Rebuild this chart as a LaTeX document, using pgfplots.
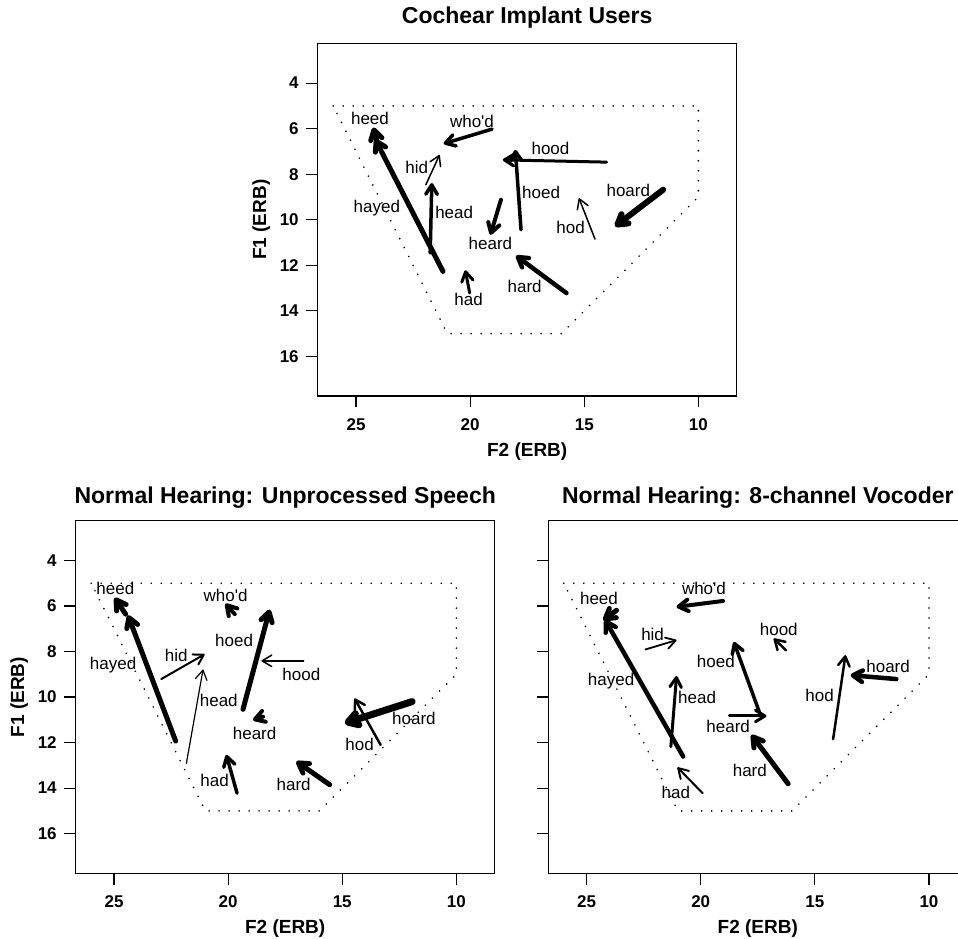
\documentclass[border=0pt]{standalone}
\usepackage{fontspec}
\setmainfont{Liberation Sans}
\usepackage{pgfplots}
\pgfplotsset{compat=1.18}
\usetikzlibrary{arrows.meta}

\pgfplotsset{
  vowel/.style={
    scale only axis, width=419pt, height=352.5pt,
    x dir=reverse, y dir=reverse,
    xmin=8.32, xmax=26.68, ymin=2.26, ymax=17.74,
    xtick={10,15,20,25}, ytick={4,6,...,16},
    tick pos=left, tick align=outside, major tick length=11.5pt,
    axis line style={line width=1.2pt},
    every tick/.style={black, line width=1.2pt},
    /pgf/number format/assume math mode=true,
    ticklabel style={font=\bfseries\fontsize{17}{19}\selectfont},
    xticklabel style={yshift=-7.5pt},
    yticklabel style={xshift=-4pt},
    label style={font=\bfseries\fontsize{19}{21}\selectfont},
    title style={font=\bfseries\fontsize{23}{25}\selectfont, at={(0.5,1)}, anchor=base},
    xlabel={F2 (ERB)}, ylabel={F1 (ERB)},
    xlabel style={at={(axis description cs:0.5,-0.157)}, anchor=center},
    ylabel style={at={(axis description cs:-0.135,0.5)}, anchor=center},
    clip=false,
  },
  arr/.style={mark=none, black, line width=#1, line cap=round,
    -{Straight Barb[length=9.5pt,width=11.5pt,round]}},
  area/.style={mark=none, black, line width=1.8pt, line cap=round,
    dash pattern=on 0pt off 10pt},
}
\tikzset{lbl/.style={font=\fontsize{17}{19}\selectfont, inner sep=0pt}}

\begin{document}
\begin{tikzpicture}[x=1pt,y=1pt]
\useasboundingbox (0,0) rectangle (958,939);
\clip (0,0) rectangle (958,939);

% cochlear implant users
\begin{axis}[vowel, at={(317.7pt,543pt)}, anchor=south west,
  title={Cochear Implant Users}, title style={yshift=14pt}]
\addplot[area] coordinates {(26,5) (10,5) (10,9) (16,15) (21,15) (26,5)};
\addplot[arr=5pt] coordinates {(24.10,6.50) (24.24,5.95)};
\addplot[arr=5pt] coordinates {(21.19,12.27) (24.17,6.45)};
\addplot[arr=3.5pt] coordinates {(19.04,6.02) (21.16,6.66)};
\addplot[arr=1.5pt] coordinates {(21.94,8.46) (21.34,7.15)};
\addplot[arr=3.5pt] coordinates {(21.75,11.46) (21.68,8.39)};
\addplot[arr=3pt] coordinates {(14.02,7.47) (18.57,7.37)};
\addplot[arr=3.5pt] coordinates {(17.77,10.44) (18.02,6.93)};
\addplot[arr=4pt] coordinates {(18.65,9.12) (19.11,10.66)};
\addplot[arr=6pt] coordinates {(11.54,8.68) (13.65,10.29)};
\addplot[arr=1.5pt] coordinates {(14.53,10.85) (15.23,9.05)};
\addplot[arr=4.5pt] coordinates {(15.78,13.22) (17.99,11.58)};
\addplot[arr=3pt] coordinates {(20.02,13.22) (20.21,12.22)};
\node[lbl] at (axis cs:24.39,5.54) {heed};
\node[lbl] at (axis cs:19.92,5.68) {who\textquotesingle d};
\node[lbl] at (axis cs:22.34,7.69) {hid};
\node[lbl] at (axis cs:16.48,6.85) {hood};
\node[lbl] at (axis cs:16.89,8.80) {hoed};
\node[lbl] at (axis cs:13.07,8.71) {hoard};
\node[lbl] at (axis cs:24.09,9.49) {hayed};
\node[lbl] at (axis cs:20.70,9.68) {head};
\node[lbl] at (axis cs:15.60,10.34) {hod};
\node[lbl] at (axis cs:19.11,11.02) {heard};
\node[lbl] at (axis cs:17.61,12.93) {hard};
\node[lbl] at (axis cs:20.07,13.48) {had};
\end{axis}

% normal hearing, unprocessed
\begin{axis}[vowel, at={(75.7pt,65.7pt)}, anchor=south west,
  title={Normal Hearing: Unprocessed Speech}, title style={yshift=11pt}]
\addplot[area] coordinates {(26,5) (10,5) (10,9) (16,15) (21,15) (26,5)};
\addplot[arr=5pt] coordinates {(24.49,6.36) (24.97,5.64)};
\addplot[arr=5pt] coordinates {(22.30,11.93) (24.39,6.41)};
\addplot[arr=4pt] coordinates {(19.71,6.36) (20.12,5.90)};
\addplot[arr=2pt] coordinates {(22.93,9.21) (21.03,8.12)};
\addplot[arr=1.2pt] coordinates {(21.83,12.91) (21.10,8.79)};
\addplot[arr=5pt] coordinates {(19.35,10.54) (18.18,6.16)};
\addplot[arr=1.5pt] coordinates {(16.69,8.41) (18.54,8.41)};
\addplot[arr=4pt] coordinates {(18.47,10.86) (18.91,11.01)};
\addplot[arr=7pt] coordinates {(11.94,10.20) (14.89,11.15)};
\addplot[arr=2.5pt] coordinates {(13.32,12.10) (14.46,10.06)};
\addplot[arr=5pt] coordinates {(15.55,13.85) (17.01,12.83)};
\addplot[arr=3.5pt] coordinates {(19.61,14.22) (20.08,12.54)};
\node[lbl] at (axis cs:24.94,5.24) {heed};
\node[lbl] at (axis cs:20.11,5.53) {who\textquotesingle d};
\node[lbl] at (axis cs:19.74,7.50) {hoed};
\node[lbl] at (axis cs:22.27,8.16) {hid};
\node[lbl] at (axis cs:25.04,8.60) {hayed};
\node[lbl] at (axis cs:16.79,8.99) {hood};
\node[lbl] at (axis cs:20.41,10.13) {head};
\node[lbl] at (axis cs:11.86,10.93) {hoard};
\node[lbl] at (axis cs:18.84,11.59) {heard};
\node[lbl] at (axis cs:14.24,12.06) {hod};
\node[lbl] at (axis cs:20.59,13.66) {had};
\node[lbl] at (axis cs:17.13,13.85) {hard};
\end{axis}

% normal hearing, 8-channel vocoder
\begin{axis}[vowel, at={(548.3pt,65.7pt)}, anchor=south west,
  title={Normal Hearing: 8-channel Vocoder}, title style={yshift=11pt},
  ylabel={}, yticklabels={}]
\addplot[area] coordinates {(26,5) (10,5) (10,9) (16,15) (21,15) (26,5)};
\addplot[arr=5pt] coordinates {(23.69,6.19) (24.27,6.63)};
\addplot[arr=4.5pt] coordinates {(20.77,12.61) (24.20,6.60)};
\addplot[arr=4pt] coordinates {(19.02,5.78) (21.06,6.04)};
\addplot[arr=1.8pt] coordinates {(22.42,7.91) (21.06,7.50)};
\addplot[arr=3pt] coordinates {(21.31,12.18) (21.06,9.08)};
\addplot[arr=3.5pt] coordinates {(17.41,10.72) (18.55,7.58)};
\addplot[arr=3pt] coordinates {(18.75,10.83) (17.12,10.83)};
\addplot[arr=2.5pt] coordinates {(16.27,7.94) (16.80,7.43)};
\addplot[arr=2.5pt] coordinates {(14.20,11.85) (13.66,8.16)};
\addplot[arr=4.5pt] coordinates {(11.43,9.21) (13.43,9.04)};
\addplot[arr=5pt] coordinates {(16.17,13.81) (17.78,11.66)};
\addplot[arr=2pt] coordinates {(19.92,14.22) (21.02,13.09)};
\node[lbl] at (axis cs:19.86,5.24) {who\textquotesingle d};
\node[lbl] at (axis cs:24.46,5.68) {heed};
\node[lbl] at (axis cs:16.58,7.04) {hood};
\node[lbl] at (axis cs:22.11,7.24) {hid};
\node[lbl] at (axis cs:19.34,8.42) {hoed};
\node[lbl] at (axis cs:11.79,8.64) {hoard};
\node[lbl] at (axis cs:23.93,9.28) {hayed};
\node[lbl] at (axis cs:14.79,9.94) {hod};
\node[lbl] at (axis cs:20.16,10.03) {head};
\node[lbl] at (axis cs:18.80,11.27) {heard};
\node[lbl] at (axis cs:17.85,13.23) {hard};
\node[lbl] at (axis cs:21.09,14.19) {had};
\end{axis}
\end{tikzpicture}
\end{document}
